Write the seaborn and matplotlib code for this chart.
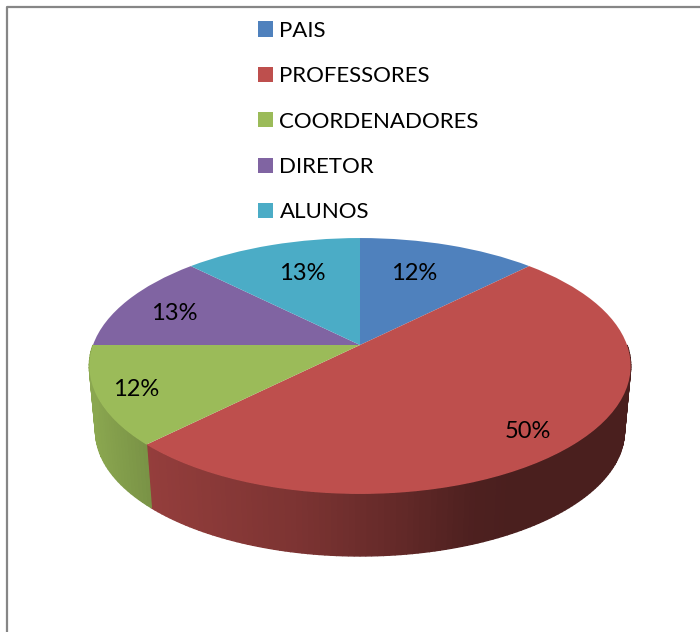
import numpy as np
import matplotlib
matplotlib.use("Agg")
import matplotlib.pyplot as plt
from matplotlib.patches import Patch
from matplotlib.transforms import Transform
import seaborn as sns

categories = ["PAIS", "PROFESSORES", "COORDENADORES", "DIRETOR", "ALUNOS"]
values = [12.5, 50, 12.5, 12.5, 12.5]
pct_labels = ["12%", "50%", "12%", "13%", "13%"]
colors = ["#4F81BD", "#BE4F4D", "#9BBB59", "#8064A2", "#4BACC6"]

sns.set_theme(style="white")
plt.rcParams["font.family"] = ["Lato", "DejaVu Sans"]

# pie is tilted, so centre of the disc sits above centre of the ellipse
CX, CY = 360, 345
RX, RY, TILT = 267, 124.5, 0.164


class TiltedDisc(Transform):
    input_dims = output_dims = 2

    def transform_non_affine(self, xy):
        xy = np.asarray(xy)
        w = 1 + TILT * xy[:, 1]
        return np.column_stack([CX + RX * xy[:, 0] / w, CY - RY * xy[:, 1] / w])


def rim(theta):
    x = np.sin(theta)
    y = np.cos(theta)
    return TiltedDisc().transform_non_affine(np.column_stack([x, y]))


def shade(x):
    return np.interp(x, [90, 150, 300, 400, 470, 510], [0.9, 0.78, 0.65, 0.52, 0.41, 0.39])


fig = plt.figure(figsize=(7, 6.32), dpi=100)
ax = fig.add_axes([0, 0, 1, 1])

wedges, _ = ax.pie(values, colors=colors, startangle=90, counterclock=False,
                   radius=1, wedgeprops={"linewidth": 0})
ax.set_aspect("auto")
ax.set_xlim(0, 700)
ax.set_ylim(632, 0)
ax.axis("off")

tilt = TiltedDisc() + ax.transData
for w in wedges:
    w.set_transform(tilt)
    w.set_zorder(3)
    w.set_clip_on(False)

# side wall, only the front half of the rim can be seen
edges = np.cumsum([0] + values) / 100 * 2 * np.pi
for i, col in enumerate(colors):
    start = max(edges[i], np.pi / 2)
    stop = min(edges[i + 1], 3 * np.pi / 2)
    if stop <= start:
        continue
    th = np.linspace(start, stop, int(values[i] * 2.5) + 2)
    top = rim(th)
    bot = top.copy()
    bot[:, 0] = 360 + 0.977 * (top[:, 0] - 360)
    bot[:, 1] = 366 + 0.977 * (top[:, 1] - 366) + 65
    rgb = np.array(matplotlib.colors.to_rgb(col))
    for j in range(len(th) - 1):
        xs = [top[j, 0], top[j + 1, 0], bot[j + 1, 0], bot[j, 0]]
        ys = [top[j, 1], top[j + 1, 1], bot[j + 1, 1], bot[j, 1]]
        c = rgb * shade(np.mean(xs))
        ax.fill(xs, ys, color=c, lw=1.0, zorder=2)

label_pos = [(414, 273.5), (528, 431.5), (136, 389.5), (174, 313.5), (302, 273.5)]
for txt, (x, y) in zip(pct_labels, label_pos):
    ax.text(x, y, txt, ha="center", va="center", fontsize=17, color="black", zorder=4)

handles = [Patch(facecolor=c, edgecolor="none") for c in colors]
leg = ax.legend(handles, categories, loc="upper left", bbox_to_anchor=(251 / 700, 1 - 14 / 632),
                frameon=False, fontsize=16, handlelength=0.68, handleheight=0.68,
                handletextpad=0.3, labelspacing=1.145, borderpad=0.3, borderaxespad=0)
for t in leg.get_texts():
    t.set_color("black")

# chart border, right and bottom are cropped off
ax.plot([701, 7, 7], [7, 7, 633], color="#868686", lw=1.6, zorder=1, clip_on=False)

fig.savefig("out.png", dpi=100)
